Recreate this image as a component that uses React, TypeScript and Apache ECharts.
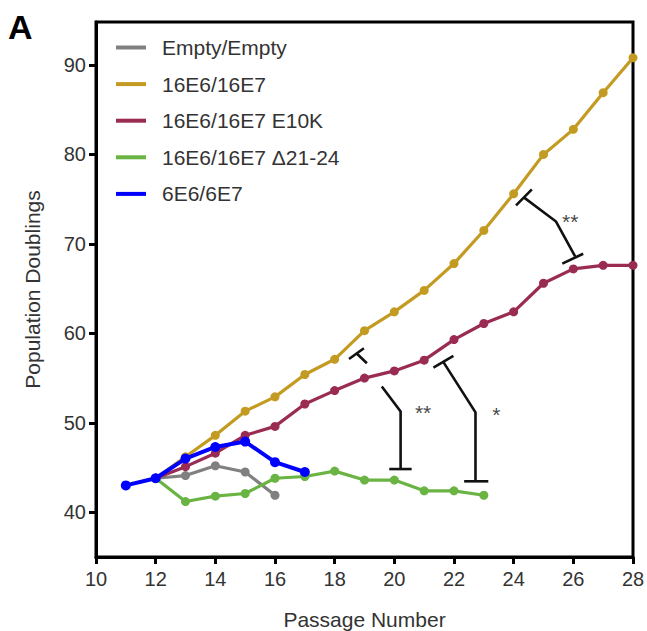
import React, { useEffect, useRef } from "react";
import * as echarts from "echarts";

// ---- data ----
const emptyX = [12, 13, 14, 15, 16];
const emptyY = [43.8, 44.1, 45.2, 44.5, 41.9];

const e6e7X = [12, 13, 14, 15, 16, 17, 18, 19, 20, 21, 22, 23, 24, 25, 26, 27, 28];
const e6e7Y = [43.8, 46.2, 48.6, 51.3, 52.9, 55.4, 57.1, 60.3, 62.4, 64.8, 67.8, 71.5, 75.6, 80.0, 82.8, 86.9, 90.8];

const e10kX = [12, 13, 14, 15, 16, 17, 18, 19, 20, 21, 22, 23, 24, 25, 26, 27, 28];
const e10kY = [43.8, 45.1, 46.6, 48.6, 49.6, 52.1, 53.6, 55.0, 55.8, 57.0, 59.3, 61.1, 62.4, 65.6, 67.2, 67.6, 67.6];

const d2124X = [12, 13, 14, 15, 16, 17, 18, 19, 20, 21, 22, 23];
const d2124Y = [43.8, 41.2, 41.8, 42.1, 43.8, 44.0, 44.6, 43.6, 43.6, 42.4, 42.4, 41.9];

const e6X = [11, 12, 13, 14, 15, 16, 17];
const e6Y = [43.0, 43.8, 46.0, 47.3, 47.9, 45.6, 44.5];

const seriesNames = ["Empty/Empty", "16E6/16E7", "16E6/16E7 E10K", "16E6/16E7 \u039421-24", "6E6/6E7"];
const seriesColors = ["#808080", "#C49B22", "#9A2B52", "#6AB443", "#0000FF"];

const xTicks = [10, 12, 14, 16, 18, 20, 22, 24, 26, 28];
const yTicks = [40, 50, 60, 70, 80, 90];

// significance brackets (data units)
const bracketPaths: number[][][] = [
  [[24.08, 74.3], [24.61, 76.1]],
  [[24.34, 75.2], [25.42, 72.5], [26.06, 68.6]],
  [[25.63, 67.8], [26.33, 68.9]],
  [[18.48, 57.13], [18.98, 58.34]],
  [[18.73, 57.78], [19.08, 56.66]],
  [[19.58, 54.06], [20.21, 51.27], [20.21, 44.83]],
  [[19.83, 44.83], [20.58, 44.83]],
  [[21.31, 56.18], [21.98, 57.48]],
  [[21.64, 56.81], [22.72, 51.16], [22.72, 43.46]],
  [[22.34, 43.46], [23.15, 43.46]],
];
const starLabels = ["**", "**", "*"];
const starX = [25.62, 20.69, 23.28];
const starY = [72.5, 51.2, 50.9];

const FONT = "'Liberation Sans', Arial, Helvetica, sans-serif";

function zip(xs: number[], ys: number[]) {
  return xs.map((x, i) => [x, ys[i]]);
}

export default function App() {
  const ref = useRef<HTMLDivElement>(null);
  useEffect(() => {
    document.body.style.margin = "0";
    if (!ref.current) return;
    const chart = echarts.init(ref.current, null, { renderer: "svg" });
    const dataSets = [
      zip(emptyX, emptyY),
      zip(e6e7X, e6e7Y),
      zip(e10kX, e10kY),
      zip(d2124X, d2124Y),
      zip(e6X, e6Y),
    ];
    const lineSeries = dataSets.map((d, i) => ({
      name: seriesNames[i],
      type: "line",
      data: d,
      symbol: "circle",
      symbolSize: i === 4 ? 10 : 9,
      showSymbol: true,
      itemStyle: { color: seriesColors[i] },
      lineStyle: { color: seriesColors[i], width: i === 4 ? 4 : 3.2 },
      z: 2 + i,
    }));
    chart.setOption({
      animation: false,
      textStyle: { fontFamily: FONT },
      grid: {
        left: 96,
        right: 14,
        top: 22,
        bottom: 74,
        show: true,
        borderColor: "#000",
        borderWidth: 3,
        containLabel: false,
        outerBoundsMode: "none",
      },
      legend: {
        data: seriesNames,
        orient: "vertical",
        left: 116,
        top: 37,
        padding: 0,
        itemWidth: 30,
        itemHeight: 4,
        itemGap: 15.6,
        icon: "rect",
        textStyle: {
          fontSize: 21,
          lineHeight: 21,
          color: "#333",
          fontFamily: FONT,
          padding: [0, 0, 0, 11],
        },
      },
      xAxis: {
        type: "value",
        min: 10,
        max: 28,
        interval: 2,
        name: "Passage Number",
        nameLocation: "middle",
        nameGap: 52,
        nameTextStyle: { fontSize: 21, color: "#333", fontFamily: FONT },
        axisLine: { show: true, onZero: false, lineStyle: { color: "#000", width: 3 } },
        axisTick: { show: true, length: 7, lineStyle: { color: "#000", width: 3 } },
        axisLabel: { fontSize: 20, color: "#333", margin: 12, fontFamily: FONT },
        splitLine: { show: false },
      },
      yAxis: {
        type: "value",
        min: 35,
        max: 94.8,
        name: "Population Doublings",
        nameLocation: "middle",
        nameGap: 53,
        nameTextStyle: { fontSize: 21, color: "#333", fontFamily: FONT },
        axisLine: { show: true, onZero: false, lineStyle: { color: "#000", width: 3 } },
        axisTick: { show: true, length: 7, customValues: yTicks, lineStyle: { color: "#000", width: 3 } },
        axisLabel: { fontSize: 20, color: "#333", margin: 10, customValues: yTicks, fontFamily: FONT },
        splitLine: { show: false },
      },
      graphic: [
        {
          type: "text",
          left: 8,
          top: 10,
          style: { text: "A", fontSize: 34, fontWeight: "bold", fill: "#000", fontFamily: FONT },
        },
      ],
      series: [
        ...lineSeries,
        {
          name: "brackets",
          type: "lines",
          coordinateSystem: "cartesian2d",
          polyline: true,
          silent: true,
          z: 10,
          lineStyle: { color: "#111", width: 2.6, opacity: 1 },
          data: bracketPaths.map((p) => ({ coords: p })),
        },
        {
          name: "stars",
          type: "scatter",
          symbolSize: 0,
          silent: true,
          z: 10,
          data: starX.map((x, i) => ({ value: [x, starY[i]], name: starLabels[i] })),
          label: {
            show: true,
            position: "right",
            distance: 0,
            formatter: "{b}",
            fontSize: 21,
            color: "#111",
            fontFamily: FONT,
          },
        },
      ],
    });
    return () => chart.dispose();
  }, []);
  return <div ref={ref} style={{ width: 647, height: 631 }} />;
}
